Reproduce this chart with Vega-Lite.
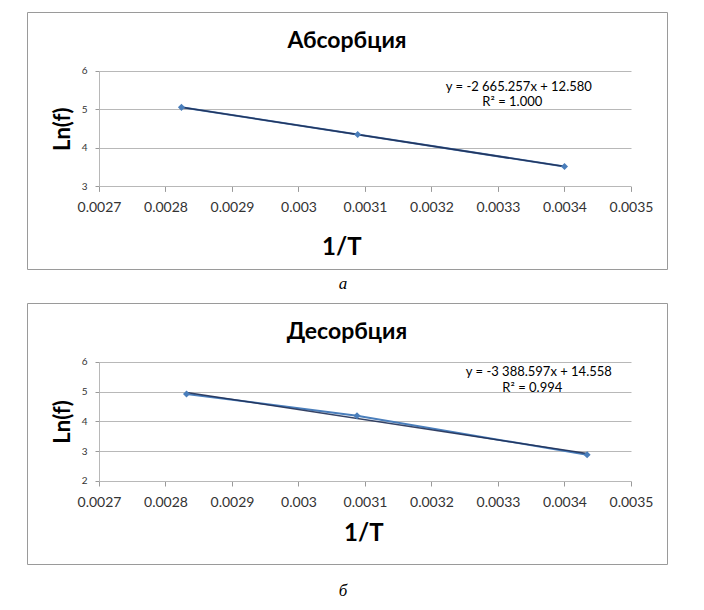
{
  "$schema": "https://vega.github.io/schema/vega-lite/v6.json",
  "padding": {"left": 26, "top": 11, "right": 0, "bottom": 0},
  "config": {
    "view": {"stroke": "#9a9a9a", "strokeWidth": 1},
    "font": "Lato"
  },
  "datasets": {
    "abs": [
      {"x": 0.002824, "y": 5.055},
      {"x": 0.003089, "y": 4.348},
      {"x": 0.0034, "y": 3.516}
    ],
    "des": [
      {"x": 0.0028316, "y": 4.916},
      {"x": 0.003088, "y": 4.19},
      {"x": 0.003434, "y": 2.88}
    ],
    "abs_eq": [{"eq": "y = -2 665.257x + 12.580", "r2": "R² = 1.000"}],
    "des_eq": [{"eq": "y = -3 388.597x + 14.558", "r2": "R² = 0.994"}]
  },
  "spacing": 10,
  "vconcat": [
    {
      "title": {"text": "а", "orient": "bottom", "anchor": "middle", "baseline": "alphabetic", "offset": 19, "dx": -4, "font": "Liberation Serif", "fontStyle": "italic", "fontWeight": "normal", "fontSize": 17, "color": "#000000"},
      "vconcat": [
        {
          "width": 640,
          "height": 257,
          "title": {"text": "Абсорбция", "frame": "group", "orient": "top", "anchor": "middle", "baseline": "alphabetic", "offset": -58.7, "font": "Lato", "fontSize": 23, "fontWeight": "bold", "color": "#000000"},
          "data": {"name": "abs"},
          "layer": [
            {
              "mark": {"type": "line", "color": "#4A7EBB", "strokeWidth": 2},
              "encoding": {
                "x": {"field": "x", "type": "quantitative",
                  "scale": {"domain": [0.00259173, 0.00355414], "nice": false, "zero": false},
                  "axis": {"orient": "bottom", "offset": -82.6, "values": [0.0027, 0.0028, 0.0029, 0.003, 0.0031, 0.0032, 0.0033, 0.0034, 0.0035], "format": ".4~f", "domain": false, "grid": false, "ticks": true, "tickSize": 5, "tickColor": "#9a9a9a", "labelFontSize": 14, "labelPadding": 9.5, "labelColor": "#333333", "labelFont": "Lato", "title": "1/T", "titleFont": "Lato", "titleFontSize": 24, "titleFontWeight": "bold", "titleColor": "#000000", "titleX": 314.3, "titleY": 67.8, "titleBaseline": "alphabetic", "titleAlign": "center"}},
                "y": {"field": "y", "type": "quantitative",
                  "scale": {"domain": [0.853, 7.5337], "nice": false, "zero": false},
                  "axis": {"orient": "left", "offset": -72, "values": [3, 4, 5, 6], "domain": false, "grid": false, "ticks": true, "tickSize": 4, "tickColor": "#9a9a9a", "labelFontSize": 10, "labelPadding": 8, "labelColor": "#333333", "labelFont": "Lato", "title": "Ln(f)", "titleFont": "Lato", "titleFontSize": 22, "titleFontWeight": "bold", "titleColor": "#000000", "titleX": -36.7, "titleY": 116.7, "titleAngle": -90, "titleBaseline": "middle", "titleAlign": "center"}}
              }
            },
            {
              "transform": [{"regression": "y", "on": "x"}],
              "mark": {"type": "line", "color": "#1f2f55", "strokeWidth": 1.5, "opacity": 0.9},
              "encoding": {
                "x": {"field": "x", "type": "quantitative", "axis": {"orient": "bottom", "offset": -82.6, "values": [0.0027], "labels": false, "domain": false, "grid": false, "ticks": true, "tickSize": -115.4, "tickColor": "#b8b8b8", "title": null}},
                "y": {"field": "y", "type": "quantitative", "axis": {"orient": "left", "offset": -72, "values": [3, 4, 5, 6], "labels": false, "domain": false, "grid": false, "ticks": true, "tickSize": -532, "tickColor": "#b8b8b8", "title": null}}
              }
            },
            {
              "mark": {"type": "point", "shape": "diamond", "filled": true, "size": 50, "color": "#4A7EBB", "opacity": 1},
              "encoding": {
                "x": {"field": "x", "type": "quantitative", "axis": null},
                "y": {"field": "y", "type": "quantitative", "axis": null}
              }
            },
            {
              "data": {"name": "abs_eq"},
              "mark": {"type": "text", "align": "center", "baseline": "alphabetic", "font": "Lato", "fontSize": 13, "color": "#000000"},
              "encoding": {
                "x": {"datum": 0.0033313, "type": "quantitative", "axis": null},
                "y": {"datum": 5.488, "type": "quantitative", "axis": null},
                "text": {"field": "eq"}
              }
            },
            {
              "data": {"name": "abs_eq"},
              "mark": {"type": "text", "align": "center", "baseline": "alphabetic", "font": "Lato", "fontSize": 13, "color": "#000000"},
              "encoding": {
                "x": {"datum": 0.0033215, "type": "quantitative", "axis": null},
                "y": {"datum": 5.085, "type": "quantitative", "axis": null},
                "text": {"field": "r2"}
              }
            }
          ],
          "resolve": {"axis": {"x": "independent", "y": "independent"}}
        }
      ]
    },
    {
      "title": {"text": "б", "orient": "bottom", "anchor": "middle", "baseline": "alphabetic", "offset": 31.4, "dx": -4, "font": "Liberation Serif", "fontStyle": "italic", "fontWeight": "normal", "fontSize": 17, "color": "#000000"},
      "vconcat": [
        {
          "width": 640,
          "height": 261,
          "title": {"text": "Десорбция", "frame": "group", "orient": "top", "anchor": "middle", "baseline": "alphabetic", "offset": -58.6, "font": "Lato", "fontSize": 23, "fontWeight": "bold", "color": "#000000"},
          "data": {"name": "des"},
          "layer": [
            {
              "mark": {"type": "line", "color": "#4A7EBB", "strokeWidth": 2},
              "encoding": {
                "x": {"field": "x", "type": "quantitative",
                  "scale": {"domain": [0.00259173, 0.00355414], "nice": false, "zero": false},
                  "axis": {"orient": "bottom", "offset": -83, "values": [0.0027, 0.0028, 0.0029, 0.003, 0.0031, 0.0032, 0.0033, 0.0034, 0.0035], "format": ".4~f", "domain": false, "grid": false, "ticks": true, "tickSize": 5, "tickColor": "#9a9a9a", "labelFontSize": 14, "labelPadding": 9.5, "labelColor": "#333333", "labelFont": "Lato", "title": "1/T", "titleFont": "Lato", "titleFontSize": 24, "titleFontWeight": "bold", "titleColor": "#000000", "titleX": 336.3, "titleY": 59.9, "titleBaseline": "alphabetic", "titleAlign": "center"}},
                "y": {"field": "y", "type": "quantitative",
                  "scale": {"domain": [-0.783, 7.968], "nice": false, "zero": false},
                  "axis": {"orient": "left", "offset": -72, "values": [2, 3, 4, 5, 6], "domain": false, "grid": false, "ticks": true, "tickSize": 4, "tickColor": "#9a9a9a", "labelFontSize": 10, "labelPadding": 8, "labelColor": "#333333", "labelFont": "Lato", "title": "Ln(f)", "titleFont": "Lato", "titleFontSize": 22, "titleFontWeight": "bold", "titleColor": "#000000", "titleX": -36.7, "titleY": 118.4, "titleAngle": -90, "titleBaseline": "middle", "titleAlign": "center"}}
              }
            },
            {
              "transform": [{"regression": "y", "on": "x"}],
              "mark": {"type": "line", "color": "#1f2f55", "strokeWidth": 1.5, "opacity": 0.9},
              "encoding": {
                "x": {"field": "x", "type": "quantitative", "axis": {"orient": "bottom", "offset": -83, "values": [0.0027], "labels": false, "domain": false, "grid": false, "ticks": true, "tickSize": -119.3, "tickColor": "#b8b8b8", "title": null}},
                "y": {"field": "y", "type": "quantitative", "axis": {"orient": "left", "offset": -72, "values": [2, 3, 4, 5, 6], "labels": false, "domain": false, "grid": false, "ticks": true, "tickSize": -532, "tickColor": "#b8b8b8", "title": null}}
              }
            },
            {
              "mark": {"type": "point", "shape": "diamond", "filled": true, "size": 50, "color": "#4A7EBB", "opacity": 1},
              "encoding": {
                "x": {"field": "x", "type": "quantitative", "axis": null},
                "y": {"field": "y", "type": "quantitative", "axis": null}
              }
            },
            {
              "data": {"name": "des_eq"},
              "mark": {"type": "text", "align": "center", "baseline": "alphabetic", "font": "Lato", "fontSize": 13, "color": "#000000"},
              "encoding": {
                "x": {"datum": 0.0033614, "type": "quantitative", "axis": null},
                "y": {"datum": 5.507, "type": "quantitative", "axis": null},
                "text": {"field": "eq"}
              }
            },
            {
              "data": {"name": "des_eq"},
              "mark": {"type": "text", "align": "center", "baseline": "alphabetic", "font": "Lato", "fontSize": 13, "color": "#000000"},
              "encoding": {
                "x": {"datum": 0.0033516, "type": "quantitative", "axis": null},
                "y": {"datum": 4.99, "type": "quantitative", "axis": null},
                "text": {"field": "r2"}
              }
            }
          ],
          "resolve": {"axis": {"x": "independent", "y": "independent"}}
        }
      ]
    }
  ]
}
